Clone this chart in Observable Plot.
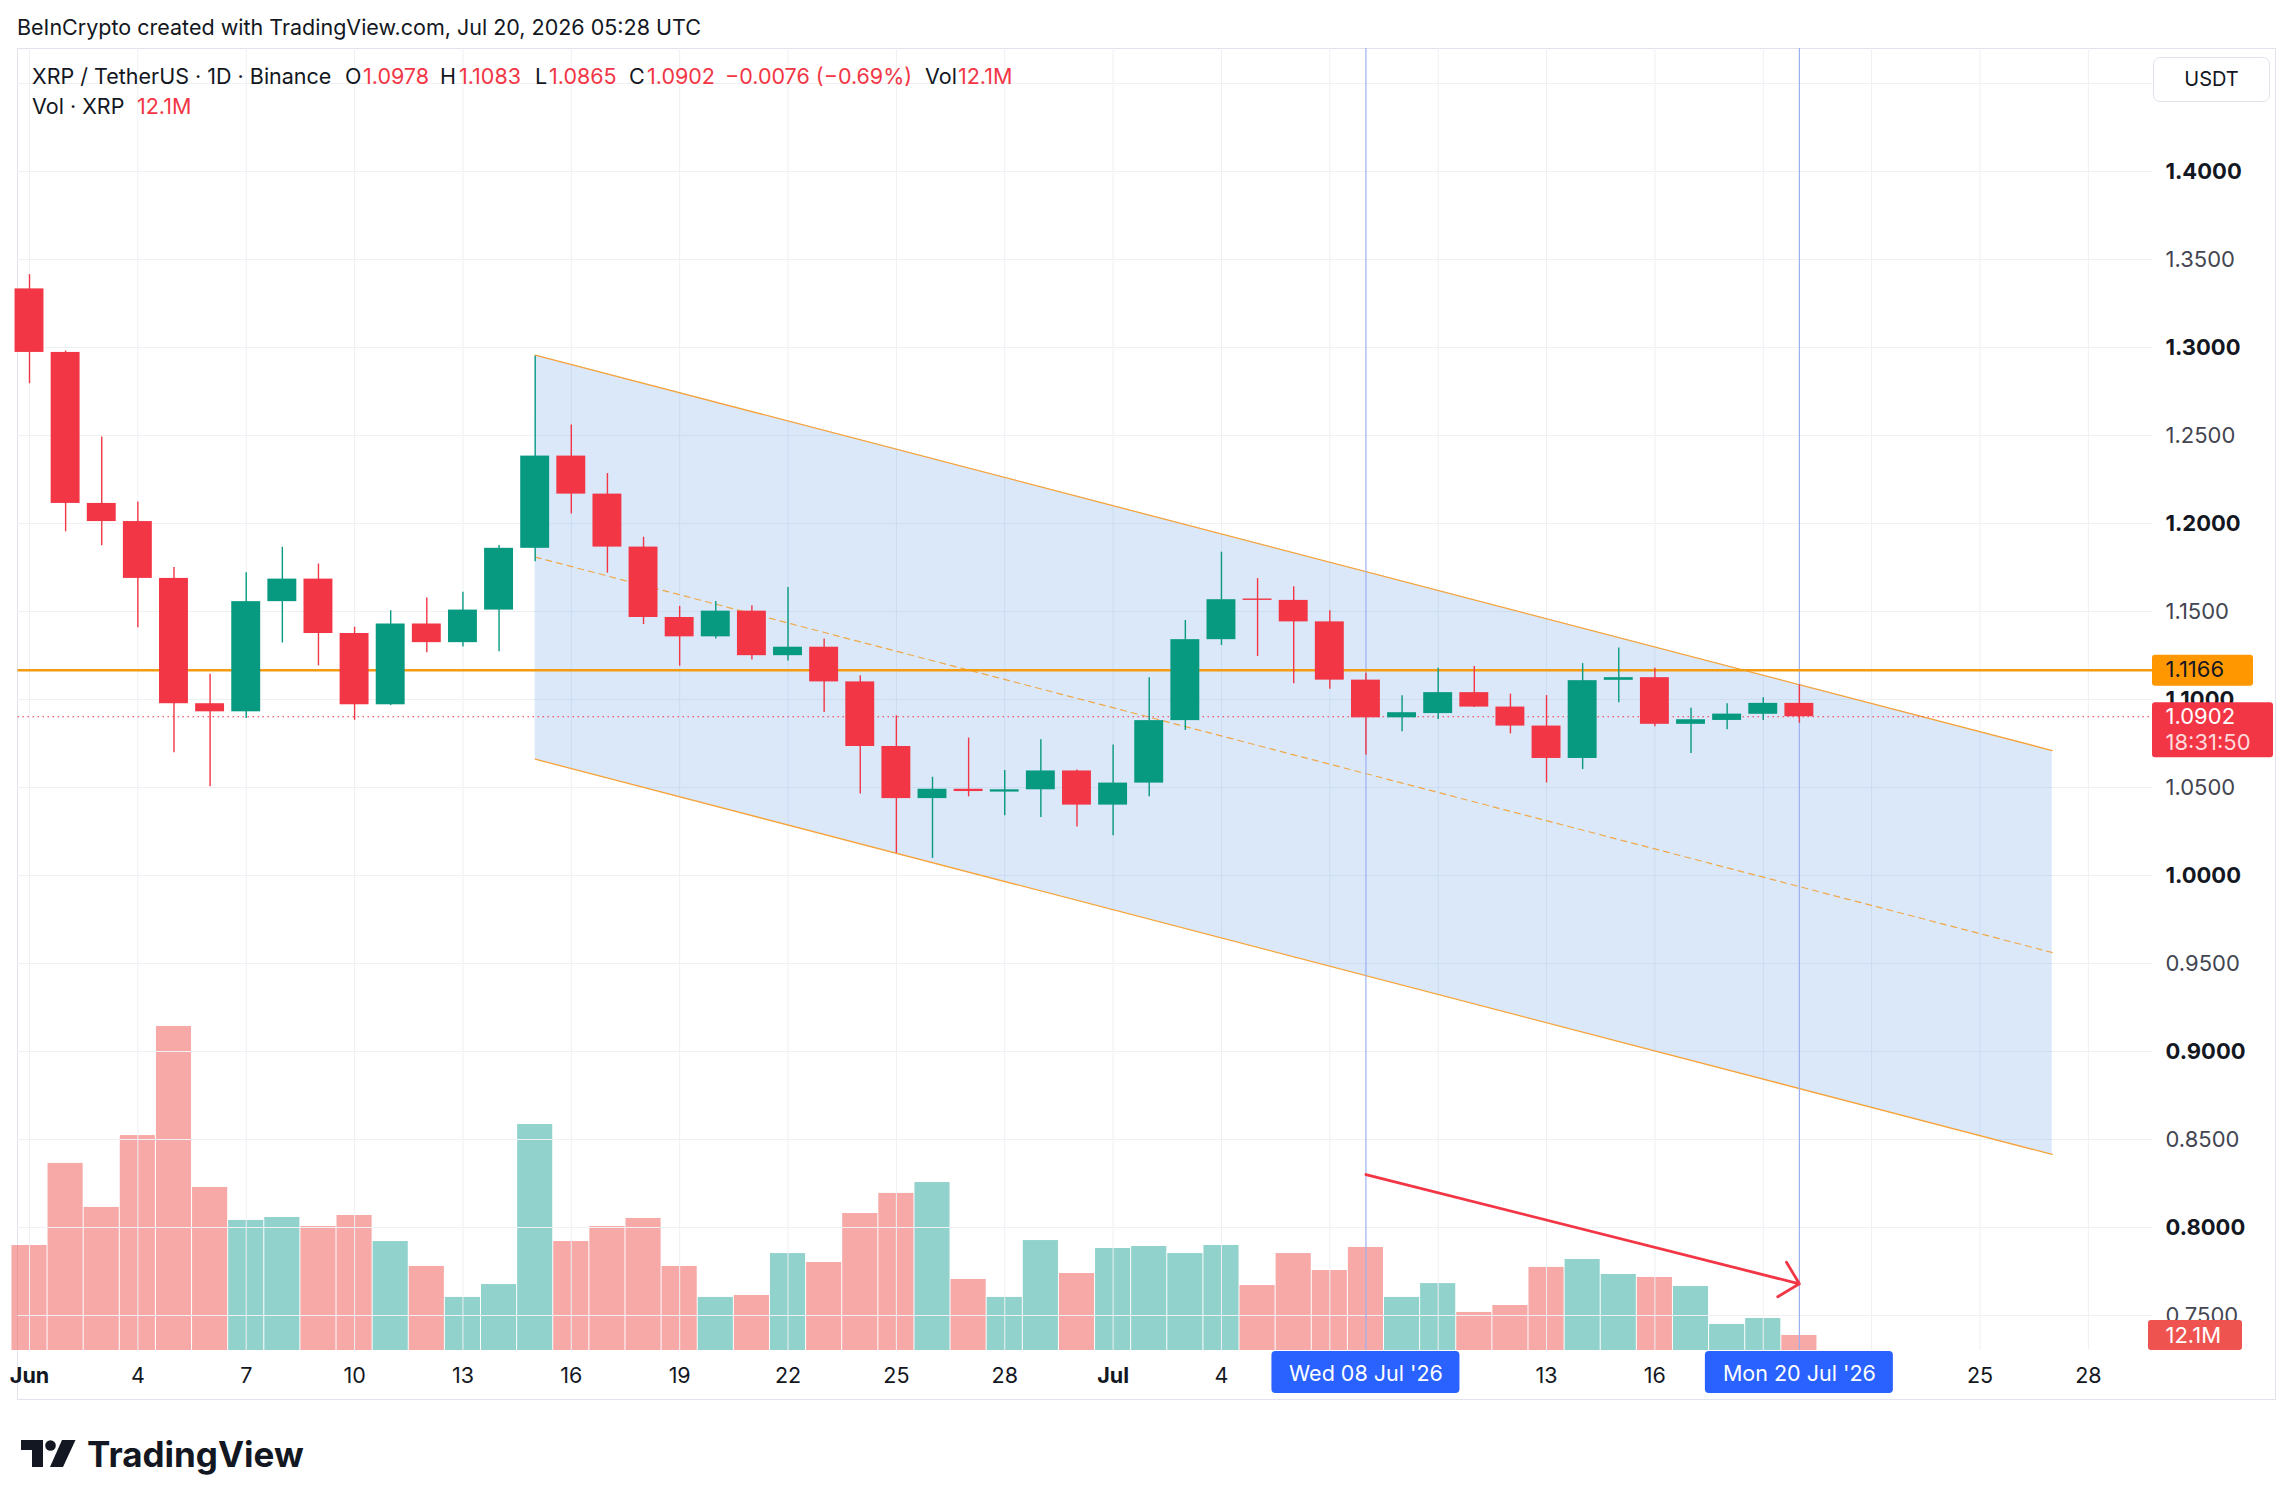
<!DOCTYPE html>
<html>
<head>
<meta charset="utf-8">
<script src="https://cdn.jsdelivr.net/npm/d3@7"></script>
<script src="https://cdn.jsdelivr.net/npm/@observablehq/plot@0.6"></script>
<style>
  body { margin: 0; background: #fff; }
  #wrap { position: relative; width: 2294px; height: 1509px; overflow: hidden; font-family: Inter, "Noto Sans", sans-serif; color: #131722; background: #fff; }
  #wrap > svg { position: absolute; left: 0; top: 0; }
  .t { position: absolute; white-space: nowrap; line-height: 1; }
  #pane { position: absolute; left: 17px; top: 48px; width: 2259px; height: 1352px; border: 1px solid #e0e3eb; box-sizing: border-box; }
  #usdt { position: absolute; left: 2153px; top: 57px; width: 117px; height: 45px; border: 1px solid #e0e3eb; border-radius: 7px; box-sizing: border-box; text-align: center; line-height: 43px; font-size: 20px; background: #fff; }
</style>
</head>
<body>
<div id="wrap">
  <div id="pane"></div>
</div>
<script>
// ---------------- data ----------------
const dates = [
  "2026-06-01","2026-06-02","2026-06-03","2026-06-04","2026-06-05","2026-06-06","2026-06-07","2026-06-08","2026-06-09","2026-06-10",
  "2026-06-11","2026-06-12","2026-06-13","2026-06-14","2026-06-15","2026-06-16","2026-06-17","2026-06-18","2026-06-19","2026-06-20",
  "2026-06-21","2026-06-22","2026-06-23","2026-06-24","2026-06-25","2026-06-26","2026-06-27","2026-06-28","2026-06-29","2026-06-30",
  "2026-07-01","2026-07-02","2026-07-03","2026-07-04","2026-07-05","2026-07-06","2026-07-07","2026-07-08","2026-07-09","2026-07-10",
  "2026-07-11","2026-07-12","2026-07-13","2026-07-14","2026-07-15","2026-07-16","2026-07-17","2026-07-18","2026-07-19","2026-07-20"
];
const open = [
  1.3333,1.2972,1.2114,1.2011,1.1688,1.0976,1.0930,1.1556,1.1684,1.1375,
  1.0970,1.1429,1.1323,1.1508,1.1859,1.2383,1.2167,1.1866,1.1466,1.1356,
  1.1502,1.1249,1.1297,1.1100,1.0733,1.0437,1.0490,1.0474,1.0487,1.0594,
  1.0400,1.0525,1.0880,1.1340,1.1571,1.1563,1.1441,1.1110,1.0896,1.0920,
  1.1039,1.0957,1.0849,1.0665,1.1109,1.1124,1.0859,1.0881,1.0916,1.0978
];
const high = [
  1.3414,1.2980,1.2491,1.2122,1.1750,1.1144,1.1720,1.1865,1.1770,1.1411,
  1.1504,1.1576,1.1610,1.1875,1.2950,1.2560,1.2284,1.1922,1.1529,1.1557,
  1.1533,1.1637,1.1344,1.1135,1.0907,1.0558,1.0781,1.0596,1.0771,1.0600,
  1.0741,1.1123,1.1449,1.1837,1.1687,1.1641,1.1504,1.1149,1.1022,1.1178,
  1.1187,1.1031,1.1022,1.1204,1.1293,1.1178,1.0950,1.0976,1.1010,1.1083
];
const low = [
  1.2794,1.1953,1.1873,1.1407,1.0697,1.0504,1.0892,1.1321,1.1191,1.0882,
  1.0966,1.1265,1.1299,1.1271,1.1783,1.2054,1.1718,1.1426,1.1189,1.1344,
  1.1225,1.1219,1.0926,1.0463,1.0126,1.0097,1.0447,1.0339,1.0329,1.0276,
  1.0226,1.0447,1.0824,1.1307,1.1244,1.1090,1.1058,1.0684,1.0817,1.0887,
  1.0955,1.0805,1.0526,1.0602,1.0982,1.0845,1.0693,1.0828,1.0881,1.0865
];
const close = [
  1.2972,1.2114,1.2011,1.1688,1.0976,1.0930,1.1556,1.1684,1.1375,1.0970,
  1.1429,1.1323,1.1508,1.1859,1.2383,1.2167,1.1866,1.1466,1.1356,1.1502,
  1.1249,1.1297,1.1100,1.0733,1.0437,1.0490,1.0477,1.0487,1.0594,1.0400,
  1.0525,1.0880,1.1340,1.1567,1.1563,1.1441,1.1110,1.0896,1.0925,1.1039,
  1.0957,1.0849,1.0665,1.1107,1.1124,1.0859,1.0885,1.0917,1.0978,1.0902
];
// volume in millions of XRP
const volume = [
  84.7,150.9,115.4,173.4,261.4,131.5,104.9,107.3,100.0,108.9,
  87.9,67.8,42.8,53.2,182.3,87.9,100.0,106.5,67.8,42.8,
  44.4,78.2,71.0,110.5,126.7,135.5,57.3,42.8,88.7,62.1,
  82.3,83.9,78.2,84.7,52.4,78.2,64.5,83.1,42.8,54.0,
  30.7,36.3,67.0,73.4,61.3,58.9,51.6,21.0,25.8,12.1
];
const priceTicks = [1.40,1.35,1.30,1.25,1.20,1.15,1.10,1.05,1.00,0.95,0.90,0.85,0.80,0.75];
const gridPrices = [1.45,1.40,1.35,1.30,1.25,1.20,1.15,1.10,1.05,1.00,0.95,0.90,0.85,0.80,0.75];
const dateTicks = [
  "2026-06-01","2026-06-04","2026-06-07","2026-06-10","2026-06-13","2026-06-16","2026-06-19","2026-06-22","2026-06-25","2026-06-28",
  "2026-07-01","2026-07-04","2026-07-07","2026-07-10","2026-07-13","2026-07-16","2026-07-19","2026-07-22","2026-07-25","2026-07-28"
];
const highlightDates = ["2026-07-08","2026-07-20"];
const highlightLabels = ["Wed 08 Jul '26","Mon 20 Jul '26"];
const channelDates = ["2026-06-15","2026-07-27"];
const channelUpper = [1.2957,1.0710];
const channelLower = [1.0661,0.8415];
const arrowDates = ["2026-07-08","2026-07-20"];
const arrowPrices = [0.8301,0.7680];
const resistance = 1.1166;
const timer = "18:31:50";

// ---------------- helpers ----------------
const parse = s => new Date(s + "T00:00:00Z");
const DAY = 864e5;
const rows = dates.map((d, i) => ({date: parse(d), open: open[i], high: high[i], low: low[i], close: close[i], volume: volume[i], up: close[i] >= open[i]}));
const last = rows[rows.length - 1];
const prev = rows[rows.length - 2];
const UP = "#089981", DOWN = "#F23645", ORANGE = "#f39c12";
const W = 2294, H = 1509;
const margins = {marginLeft: 17.5, marginRight: 142, marginTop: 48, marginBottom: 159};
const xOpts = {type: "utc", domain: [parse("2026-06-01"), parse("2026-07-31")], range: [29, 29 + 60 * 36.12]};
const yPriceOpts = {type: "linear", domain: [0.75, 1.40], range: [1315, 171]};
const yVolOpts = {type: "linear", domain: [0, 300], range: [1350, 1350 - 300 / 0.8067]};
const X = Plot.scale({x: xOpts});
const Y = Plot.scale({y: yPriceOpts});
const V = Plot.scale({y: yVolOpts});
const fmtM = v => v.toFixed(1) + "M";
const fmt4 = v => v.toFixed(4);
const style = {background: "transparent", fontFamily: "Inter, 'Noto Sans', sans-serif", fontSize: "21px", overflow: "visible"};
const frameRight = W - margins.marginRight;
const AX = 22;   // price-scale font size
const TX = 21.5; // time-scale font size

const chan = channelDates.map((d, i) => ({date: parse(d), hi: channelUpper[i], lo: channelLower[i], mid: (channelUpper[i] + channelLower[i]) / 2}));
const hl = highlightDates.map((d, i) => ({date: parse(d), label: highlightLabels[i]}));
const tickRows = dateTicks.map(parse).map(d => ({date: d, major: d.getUTCDate() === 1}))
  .filter(t => !hl.some(h => Math.abs(+t.date - +h.date) < 2.5 * DAY));
const arrowRow = [{x1: parse(arrowDates[0]), y1: arrowPrices[0], x2: parse(arrowDates[1]), y2: arrowPrices[1]}];

// ---------------- volume layer ----------------
const volPlot = Plot.plot({
  width: W, height: H, ...margins,
  x: {...xOpts, axis: null},
  y: {...yVolOpts, axis: null},
  color: {type: "identity"},
  style,
  marks: [
    Plot.rect(rows, {
      x1: d => new Date(+d.date - DAY / 2), x2: d => new Date(+d.date + DAY / 2),
      y1: 0, y2: "volume",
      fill: d => d.up ? "#26a69a" : "#ef5350", fillOpacity: 0.5,
      insetLeft: 0.5, insetRight: 0.5
    })
  ]
});

// ---------------- price layer ----------------
const badgeX1 = () => X.invert(frameRight);
const pricePlot = Plot.plot({
  width: W, height: H, ...margins,
  x: {...xOpts, axis: null},
  y: {...yPriceOpts, axis: null},
  color: {type: "identity"},
  style,
  marks: [
    Plot.ruleY(gridPrices, {stroke: "#eef0f4", strokeWidth: 1}),
    Plot.ruleX(dateTicks.map(parse), {stroke: "#eef0f4", strokeWidth: 1}),
    // parallel channel
    Plot.areaY(chan, {x: "date", y1: "lo", y2: "hi", fill: "rgb(70,140,230)", fillOpacity: 0.2}),
    Plot.line(chan, {x: "date", y: "hi", stroke: "#f5a33a", strokeWidth: 1.3}),
    Plot.line(chan, {x: "date", y: "lo", stroke: "#f5a33a", strokeWidth: 1.3}),
    Plot.line(chan, {x: "date", y: "mid", stroke: "#f0a848", strokeWidth: 1.2, strokeDasharray: "6,5"}),
    // date-range markers
    Plot.ruleX(hl, {x: "date", stroke: "#9cb0ee", strokeWidth: 1.2}),
    // horizontal levels
    Plot.ruleY([resistance], {stroke: ORANGE, strokeWidth: 2.6}),
    Plot.ruleY([last.close], {stroke: DOWN, strokeWidth: 1, strokeDasharray: "1.5,3.5"}),
    // candles
    Plot.ruleX(rows, {x: "date", y1: "low", y2: "high", stroke: d => d.up ? UP : DOWN, strokeWidth: 1.4}),
    Plot.rect(rows, {
      x1: d => new Date(+d.date - DAY / 2), x2: d => new Date(+d.date + DAY / 2),
      y1: "open", y2: d => Math.abs(d.close - d.open) < 0.0006 ? d.open + (d.up ? 0.0006 : -0.0006) : d.close,
      fill: d => d.up ? UP : DOWN, insetLeft: 3.6, insetRight: 3.6
    }),
    // volume trend arrow
    Plot.arrow(arrowRow, {x1: "x1", y1: "y1", x2: "x2", y2: "y2", stroke: "#F23645", strokeWidth: 2.8, headAngle: 90, headLength: 13.5}),
    // price axis labels
    Plot.text(priceTicks.filter(v => Math.abs(v * 10 - Math.round(v * 10)) < 1e-6), {
      y: d => d, text: fmt4, frameAnchor: "right", textAnchor: "start", dx: 13, fontSize: AX, fontWeight: 700, fill: "#131722"
    }),
    Plot.text(priceTicks.filter(v => Math.abs(v * 10 - Math.round(v * 10)) >= 1e-6), {
      y: d => d, text: fmt4, frameAnchor: "right", textAnchor: "start", dx: 13, fontSize: AX, fill: "#434651"
    }),
    // time axis labels
    Plot.text(tickRows.filter(t => !t.major), {
      x: "date", text: d => String(d.date.getUTCDate()), frameAnchor: "bottom", dy: 32, fontSize: TX, fill: "#131722"
    }),
    Plot.text(tickRows.filter(t => t.major), {
      x: "date", text: d => d3.utcFormat("%b")(d.date), frameAnchor: "bottom", dy: 32, fontSize: TX, fontWeight: 700, fill: "#131722"
    }),
    // highlighted date boxes
    Plot.rect(hl, {
      x1: d => X.invert(X.apply(d.date) - 94), x2: d => X.invert(X.apply(d.date) + 94),
      y1: () => Y.invert(1351), y2: () => Y.invert(1393), fill: "#2962ff", rx: 4
    }),
    Plot.text(hl, {x: "date", text: "label", frameAnchor: "bottom", dy: 30, fontSize: TX, fill: "white"}),
    // price scale badges
    Plot.rect([resistance], {
      x1: badgeX1, x2: () => X.invert(2253),
      y1: d => Y.invert(Y.apply(d) - 15), y2: d => Y.invert(Y.apply(d) + 16), fill: "#FF9800", rx: 3
    }),
    Plot.text([resistance], {y: d => d, text: fmt4, frameAnchor: "right", textAnchor: "start", dx: 13, fontSize: AX, fill: "#131722"}),
    Plot.rect([last.close], {
      x1: badgeX1, x2: () => X.invert(2273),
      y1: d => Y.invert(Y.apply(d) - 14), y2: d => Y.invert(Y.apply(d) + 41), fill: "#F23645", rx: 3
    }),
    Plot.text([last.close], {y: d => d, text: fmt4, frameAnchor: "right", textAnchor: "start", dx: 13, fontSize: AX, fill: "white"}),
    Plot.text([last.close], {y: d => d, text: () => timer, frameAnchor: "right", textAnchor: "start", dx: 13, dy: 26, fontSize: AX, fill: "#ffd9dc"}),
    Plot.rect([last.volume], {
      x1: () => X.invert(frameRight - 4), x2: () => X.invert(2242),
      y1: d => Y.invert(V.apply(d) - 15), y2: d => Y.invert(V.apply(d) + 15), fill: "#EF5350", rx: 3
    }),
    Plot.text([last.volume], {y: d => Y.invert(V.apply(d)), text: fmtM, frameAnchor: "right", textAnchor: "start", dx: 13, fontSize: AX, fill: "white"})
  ]
});

const wrap = document.getElementById("wrap");
wrap.appendChild(volPlot);
wrap.appendChild(pricePlot);

// ---------------- header / legend text ----------------
function addText(txt, left, baseline, size, color, weight) {
  const el = document.createElement("div");
  el.className = "t";
  el.textContent = txt;
  el.style.left = left + "px";
  el.style.top = (baseline - 0.864 * size) + "px";
  el.style.fontSize = size + "px";
  el.style.color = color;
  if (weight) el.style.fontWeight = weight;
  wrap.appendChild(el);
}
const BLACK = "#131722", RED = "#F23645";
const HS = 21.5; // header / legend font size
addText("BeInCrypto created with TradingView.com, Jul 20, 2026 05:28 UTC", 17, 36, HS, BLACK);
const chg = last.close - prev.close;
const pct = chg / prev.close * 100;
const legend = [
  ["XRP / TetherUS \u00b7 1D \u00b7 Binance", 32, BLACK],
  ["O", 345, BLACK], [fmt4(last.open), 363, RED],
  ["H", 440, BLACK], [fmt4(last.high), 459, RED],
  ["L", 535, BLACK], [fmt4(last.low), 549, RED],
  ["C", 629, BLACK], [fmt4(last.close), 647, RED],
  [(chg < 0 ? "\u2212" : "+") + Math.abs(chg).toFixed(4) + " (" + (pct < 0 ? "\u2212" : "+") + Math.abs(pct).toFixed(2) + "%)", 725, RED],
  ["Vol", 925, BLACK], [fmtM(last.volume), 958, RED]
];
legend.forEach(([t, x, c]) => addText(t, x, 85, HS, c));
addText("Vol \u00b7 XRP", 32, 115, HS, BLACK);
addText(fmtM(last.volume), 137, 115, HS, RED);

const usdt = document.createElement("div");
usdt.id = "usdt";
usdt.textContent = "USDT";
wrap.appendChild(usdt);

// TradingView wordmark
const logo = document.createElementNS("http://www.w3.org/2000/svg", "svg");
logo.setAttribute("width", "56"); logo.setAttribute("height", "28");
logo.setAttribute("viewBox", "0 0 56 28");
logo.style.cssText = "position:absolute;left:21px;top:1440px";
logo.innerHTML = '<path d="M0 0H22V27H11V10H0Z" fill="#131722"/><circle cx="29.5" cy="5.5" r="5.3" fill="#131722"/><path d="M41 0H54.5L42 27H29Z" fill="#131722"/>';
wrap.appendChild(logo);
addText("TradingView", 87, 1467, 35, BLACK, 700);
</script>
</body>
</html>
